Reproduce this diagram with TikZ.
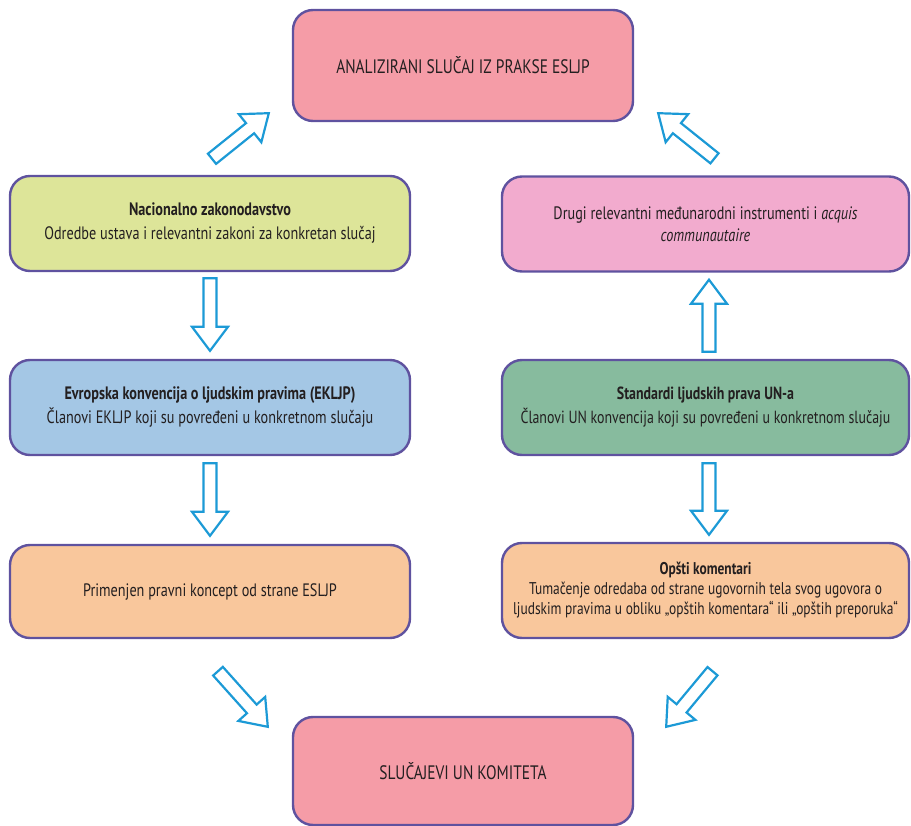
\documentclass[tikz,border=0pt]{standalone}
\usepackage{fontspec}
\setmainfont{PT Sans}[FakeStretch=0.79]
\usetikzlibrary{calc}

\definecolor{okvir}{HTML}{5F529F}
\definecolor{strelica}{HTML}{1C9AD6}
\definecolor{tekst}{HTML}{231F20}
\definecolor{roze}{HTML}{F59CA7}
\definecolor{zuta}{HTML}{DDE599}
\definecolor{ljroze}{HTML}{F2ABCE}
\definecolor{plava}{HTML}{A4C7E5}
\definecolor{zelena}{HTML}{87BB9E}
\definecolor{breskva}{HTML}{F9C79C}

% suplja strelica od #1 do #2
\newcommand{\hollowarrow}[2]{%
  \draw[strela] let \p1=(#1), \p2=(#2), \n1={atan2(\y2-\y1,\x2-\x1)} in
    ($(\p1)+(\n1+90:6.5pt)$) -- ($(\p2)+(\n1+180:24pt)+(\n1+90:6.5pt)$)
    -- ($(\p2)+(\n1+180:24pt)+(\n1+90:18pt)$) -- (\p2)
    -- ($(\p2)+(\n1+180:24pt)+(\n1-90:18pt)$)
    -- ($(\p2)+(\n1+180:24pt)+(\n1-90:6.5pt)$)
    -- ($(\p1)+(\n1-90:6.5pt)$) -- cycle;}

\begin{document}
\begin{tikzpicture}[
    x=1pt, y=-1pt,
    kutija/.style={draw=okvir, line width=2.4pt, rounded corners=20pt,
      inner sep=0pt, align=center, text=tekst,
      font=\fontsize{18}{22}\selectfont},
    velika/.style={kutija, fill=roze, minimum width=340,
      font=\fontsize{19.5}{22}\selectfont},
    leva/.style={kutija, minimum width=400, minimum height=95},
    desna/.style={kutija, minimum width=407, minimum height=95},
    strela/.style={draw=strelica, line width=2.2pt, fill=white, line join=miter}
]
\useasboundingbox (0,0) rectangle (911,826);

% gornja i donja kutija
\node[velika, minimum height=111] (analiza) at (463,65.5)
  {ANALIZIRANI SLUČAJ IZ PRAKSE ESLJP};
\node[velika, minimum height=108] (komitet) at (463,771)
  {SLUČAJEVI UN KOMITETA};

% leva kolona
\node[leva, fill=zuta] (nac) at (210,223.5)
  {\textbf{Nacionalno zakonodavstvo}\\[2pt]Odredbe ustava i relevantni zakoni za konkretan slučaj};
\node[leva, fill=plava] (ekljp) at (210,407.5)
  {\textbf{Evropska konvencija o ljudskim pravima (EKLJP)}\\[2pt]Članovi EKLJP koji su povređeni u konkretnom slučaju};
\node[leva, fill=breskva, minimum height=93] (primena) at (210,591.5)
  {Primenjen pravni koncept od strane ESLJP};

% desna kolona
\node[desna, fill=ljroze] (drugi) at (705.5,224)
  {Drugi relevantni međunarodni instrumenti i \textit{acquis}\\\textit{communautaire}};
\node[desna, fill=zelena, font=\fontsize{17.6}{22}\selectfont] (unstd) at (705.5,407.5)
  {\textbf{Standardi ljudskih prava UN-a}\\[2pt]Članovi UN konvencija koji su povređeni u konkretnom slučaju};
\node[desna, fill=breskva, font=\fontsize{17}{20}\selectfont] (komentari) at (705.5,590.5)
  {\textbf{Opšti komentari}\\Tumačenje odredaba od strane ugovornih tela svog ugovora o\\ljudskim pravima u obliku „opštih komentara“ ili „opštih preporuka“};

% strelice prema gore
\hollowarrow{[shift={(2pt,16pt)}]nac.north}{[shift={(-23pt,9pt)}]analiza.south west}
\hollowarrow{[shift={(9pt,17pt)}]drugi.north}{[shift={(24pt,9pt)}]analiza.south east}
\hollowarrow{[shift={(3.5pt,7pt)}]unstd.north}{[shift={(3.5pt,-7pt)}]drugi.south}

% strelice prema dole
\hollowarrow{[yshift=-6pt]nac.south}{[yshift=8pt]ekljp.north}
\hollowarrow{[yshift=-7pt]ekljp.south}{[yshift=8pt]primena.north}
\hollowarrow{[shift={(3.5pt,-7pt)}]unstd.south}{[shift={(3.5pt,7pt)}]komentari.north}
\hollowarrow{[shift={(8pt,-32pt)}]primena.south}{[shift={(-24pt,-11pt)}]komitet.north west}
\hollowarrow{[shift={(7pt,-32pt)}]komentari.south}{[shift={(32pt,-11pt)}]komitet.north east}

\end{tikzpicture}
\end{document}
